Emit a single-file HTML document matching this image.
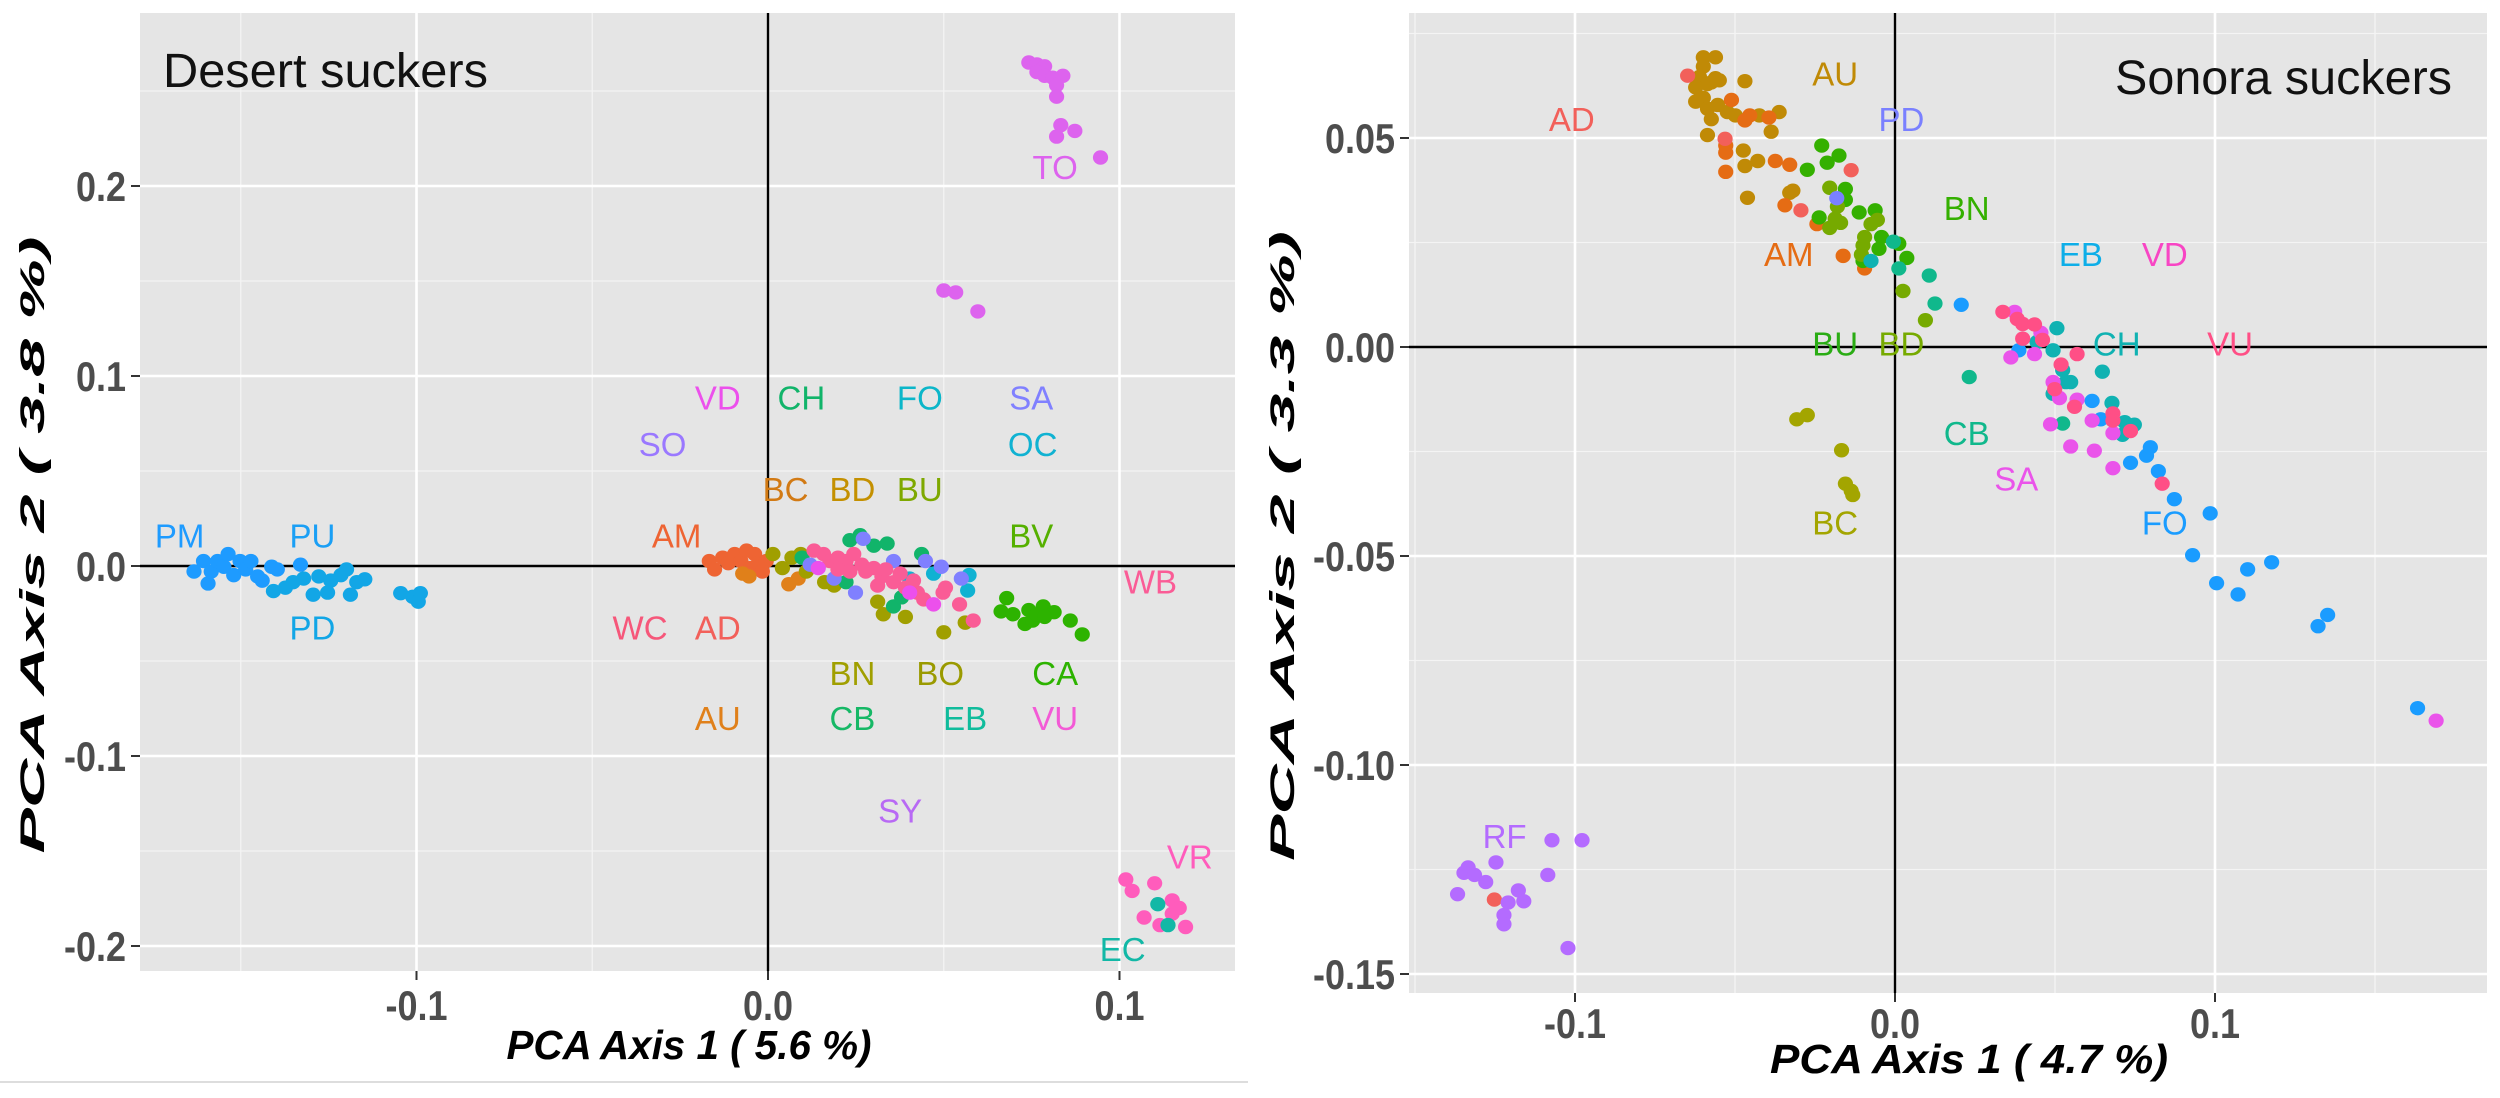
<!DOCTYPE html>
<html><head><meta charset="utf-8"><style>
html,body{margin:0;padding:0;background:#fff;}
svg{display:block;font-family:"Liberation Sans",sans-serif;}
</style></head><body>
<svg id="chart" width="2500" height="1098" viewBox="0 0 2500 1098" xmlns="http://www.w3.org/2000/svg">
<line x1="0" y1="1082" x2="1248" y2="1082" stroke="#dddddd" stroke-width="2"/>
<g id="left"></g>
<g id="right"></g>
</svg>
<script>
// ---------- Desert suckers data ----------
const desertPM = [[-0.1633,-0.0029],[-0.1606,0.0026],[-0.1593,-0.0092],[-0.1584,-0.0029],[-0.1566,0.0026],[-0.1548,-0.0004],[-0.1536,0.0063],[-0.1520,-0.0048],[-0.1502,0.0026],[-0.1486,-0.0018],[-0.1471,0.0026],[-0.1452,-0.0055],[-0.1439,-0.0077],[-0.1412,-0.0004],[-0.1396,-0.0018],[-0.1330,0.0007]];
const desertPD = [[-0.1407,-0.0132],[-0.1373,-0.0114],[-0.1351,-0.0085],[-0.1321,-0.0066],[-0.1294,-0.0151],[-0.1278,-0.0055],[-0.1253,-0.0140],[-0.1244,-0.0077],[-0.1215,-0.0048],[-0.1199,-0.0018],[-0.1188,-0.0151],[-0.1170,-0.0085],[-0.1147,-0.0070],[-0.1045,-0.0143],[-0.1011,-0.0162],[-0.0989,-0.0143],[-0.0995,-0.0188]];
const desertAM = [[-0.0167,0.0026],[-0.0152,-0.0018],[-0.0129,0.0044],[-0.0113,0.0015],[-0.0095,0.0063],[-0.0077,0.0026],[-0.0061,0.0081],[-0.0050,-0.0011],[-0.0038,0.0063],[-0.0027,0.0015],[-0.0016,-0.0029],[-0.0005,0.0026]];
const desertAU = [[-0.0072,-0.0040],[-0.0054,-0.0055],[0.0059,-0.0096],[0.0086,-0.0066]];
const desertBN = [[0.0014,0.0063],[0.0041,-0.0011],[0.0068,0.0044],[0.0093,0.0063],[0.0109,-0.0029],[0.0161,-0.0085],[0.0188,-0.0103],[0.0312,-0.0188],[0.0328,-0.0254],[0.0391,-0.0268],[0.0500,-0.0349],[0.0561,-0.0298]];
const desertCH = [[0.0097,0.0044],[0.0233,0.0136],[0.0262,0.0162],[0.0301,0.0107],[0.0339,0.0118],[0.0222,-0.0085],[0.0357,-0.0213],[0.0437,0.0063],[0.0380,-0.0165]];
const desertOC = [[0.0568,-0.0129],[0.0572,-0.0048],[0.0471,-0.0040],[0.0403,-0.0066]];
const desertSA = [[0.0120,0.0007],[0.0188,-0.0066],[0.0249,-0.0140],[0.0271,0.0143],[0.0357,0.0026],[0.0493,-0.0004],[0.0550,-0.0066],[0.0448,0.0026]];
const desertWB = [[0.0131,0.0081],[0.0158,0.0063],[0.0176,0.0026],[0.0199,0.0044],[0.0222,0.0026],[0.0244,0.0063],[0.0267,0.0007],[0.0278,-0.0029],[0.0301,-0.0011],[0.0324,-0.0055],[0.0335,-0.0018],[0.0357,-0.0085],[0.0376,-0.0040],[0.0391,-0.0114],[0.0414,-0.0077],[0.0425,-0.0140],[0.0443,-0.0176],[0.0498,-0.0140],[0.0505,-0.0114],[0.0545,-0.0202],[0.0584,-0.0287],[0.0312,-0.0103],[0.0233,-0.0029],[0.0199,-0.0018]];
const desertVD = [[0.0143,-0.0011],[0.0403,-0.0140],[0.0471,-0.0202]];
const desertCA = [[0.0679,-0.0169],[0.0663,-0.0239],[0.0697,-0.0254],[0.0731,-0.0305],[0.0742,-0.0232],[0.0753,-0.0287],[0.0783,-0.0213],[0.0765,-0.0257],[0.0814,-0.0243],[0.0860,-0.0287],[0.0894,-0.0360],[0.0787,-0.0268]];
const desertTO = [[0.0742,0.265],[0.0765,0.264],[0.0787,0.263],[0.0765,0.260],[0.0787,0.258],[0.081,0.257],[0.0839,0.258],[0.0821,0.253],[0.0821,0.247],[0.0833,0.232],[0.0821,0.226],[0.0873,0.229],[0.0946,0.215],[0.050,0.145],[0.0534,0.144],[0.0597,0.134]];
const desertVR = [[0.1018,-0.165],[0.1036,-0.171],[0.110,-0.167],[0.115,-0.176],[0.107,-0.185],[0.1115,-0.189],[0.115,-0.183],[0.1188,-0.190],[0.117,-0.180]];
const desertEC = [[0.1109,-0.178],[0.1138,-0.189]];
const desertLabels = ["PM","PU","PD","VD","CH","FO","SA","SO","OC","BC","BD","BU","AM","BV","WB","WC","AD","BN","BO","CA","AU","CB","EB","VU","SY","TO","VR","EC"];
const desertLabelX = [-0.1674,-0.1296,-0.1296,-0.0143,0.0095,0.0432,0.0749,-0.030,0.0753,0.005,0.024,0.0432,-0.026,0.0749,0.1088,-0.0364,-0.0143,0.024,0.049,0.0817,-0.0143,0.024,0.0561,0.0817,0.0376,0.0817,0.120,0.1009];
const desertLabelY = [0.016,0.016,-0.0324,0.0886,0.0886,0.0886,0.0886,0.0643,0.0643,0.0404,0.0404,0.0404,0.016,0.016,-0.0081,-0.0324,-0.0324,-0.0563,-0.0563,-0.0563,-0.080,-0.080,-0.080,-0.080,-0.1287,0.21,-0.153,-0.2015];

// ---------- Sonora suckers data ----------
const sonoraAU = [[-0.0599,0.0693],[-0.0561,0.0693],[-0.0599,0.0671],[-0.0611,0.0646],[-0.0586,0.0629],[-0.0623,0.0621],[-0.0574,0.0633],[-0.0549,0.0638],[-0.0599,0.0596],[-0.0623,0.0587],[-0.0586,0.0570],[-0.0554,0.0579],[-0.0524,0.0562],[-0.0574,0.0545],[-0.0586,0.0507],[-0.0499,0.0554],[-0.0469,0.0636],[-0.0424,0.0554],[-0.0387,0.0515],[-0.0362,0.0562],[-0.0474,0.0470],[-0.0429,0.0445],[-0.0469,0.0433],[-0.0461,0.0357],[-0.0329,0.0369],[-0.0319,0.0374],[-0.0561,0.0643]];
const sonoraAD = [[-0.0648,0.0649],[-0.0531,0.0498],[-0.0294,0.0327],[-0.0137,0.0423],[-0.1252,-0.1322]];
const sonoraAM = [[-0.0511,0.0591],[-0.0454,0.0554],[-0.0469,0.0542],[-0.0529,0.0482],[-0.0529,0.0465],[-0.0529,0.0419],[-0.0374,0.0445],[-0.0329,0.0436],[-0.0344,0.0339],[-0.0244,0.0294],[-0.0162,0.0218],[-0.0095,0.0188],[-0.0394,0.0549]];
const sonoraBN = [[-0.0229,0.0482],[-0.0175,0.0458],[-0.0212,0.0441],[-0.0274,0.0424],[-0.0112,0.0322],[-0.0062,0.0327],[-0.0237,0.0310],[-0.0155,0.0378],[-0.0155,0.0352],[-0.0042,0.0263],[-0.0050,0.0235],[0.0037,0.0213],[-0.0100,0.0206],[0.0012,0.0247]];
const sonoraBD = [[-0.0204,0.0381],[-0.0180,0.0336],[-0.0187,0.0307],[-0.0204,0.0285],[-0.0170,0.0297],[-0.0095,0.0263],[-0.0100,0.0243],[-0.0105,0.0221],[-0.0075,0.0294],[-0.0055,0.0304],[0.0025,0.0134],[0.0095,0.0064]];
const sonoraPD = [[-0.0182,0.0356]];
const sonoraCB = [[-0.0005,0.0252],[0.0012,0.0188],[0.0107,0.0171],[0.0125,0.0104],[0.0232,-0.0072],[0.0524,-0.0183]];
const sonoraBC = [[-0.0307,-0.0173],[-0.0274,-0.0163],[-0.0167,-0.0247],[-0.0155,-0.0327],[-0.0137,-0.0344],[-0.0132,-0.0354]];
const sonoraFO = [[0.0207,0.0101],[0.0387,-0.0008],[0.0616,-0.0129],[0.0643,-0.0173],[0.0736,-0.0277],[0.0786,-0.0260],[0.0798,-0.0240],[0.0823,-0.0297],[0.0873,-0.0364],[0.0985,-0.0398],[0.0930,-0.0498],[0.1005,-0.0565],[0.1072,-0.0592],[0.1102,-0.0532],[0.1177,-0.0515],[0.1322,-0.0668],[0.1352,-0.0641],[0.1633,-0.0864]];
const sonoraCH = [[-0.0075,0.0206],[0.0506,0.0045],[0.0494,-0.0008],[0.0524,-0.0055],[0.0534,-0.0084],[0.0494,-0.0112],[0.0648,-0.0059],[0.0678,-0.0134],[0.0718,-0.0180],[0.0748,-0.0186],[0.0711,-0.0210],[0.0444,0.0012],[0.0549,-0.0084]];
const sonoraSA = [[0.0374,0.0084],[0.0456,0.0034],[0.0362,-0.0025],[0.0436,-0.0017],[0.0494,-0.0084],[0.0514,-0.0122],[0.0569,-0.0126],[0.0486,-0.0185],[0.0549,-0.0238],[0.0623,-0.0248],[0.0616,-0.0176],[0.0681,-0.0290],[0.0681,-0.0206],[0.1691,-0.0894]];
const sonoraVU = [[0.0337,0.0084],[0.0382,0.0067],[0.0399,0.0055],[0.0436,0.0054],[0.0461,0.0017],[0.0399,0.0020],[0.0519,-0.0042],[0.0569,-0.0017],[0.0499,-0.0101],[0.0561,-0.0143],[0.0681,-0.0159],[0.0736,-0.0201],[0.0835,-0.0327],[0.0681,-0.0176]];
const sonoraRF = [[-0.1367,-0.1309],[-0.1334,-0.1245],[-0.1347,-0.1258],[-0.1314,-0.1263],[-0.1279,-0.1280],[-0.1247,-0.1233],[-0.1209,-0.1329],[-0.1222,-0.1359],[-0.1222,-0.1381],[-0.1177,-0.1300],[-0.1160,-0.1326],[-0.1085,-0.1263],[-0.1072,-0.1180],[-0.0978,-0.1180],[-0.1022,-0.1438]];
const sonoraLabels = ["AD","AU","PD","BN","AM","EB","VD","BU","BD","CH","VU","CB","SA","BC","FO","RF"];
const sonoraLabelX = [-0.101,-0.0187,0.002,0.0224,-0.0332,0.0581,0.0843,-0.0187,0.002,0.0693,0.1047,0.0224,0.0379,-0.0187,0.0843,-0.122];
const sonoraLabelY = [0.0545,0.0654,0.0545,0.0332,0.0223,0.0223,0.0223,0.0008,0.0008,0.0008,0.0008,-0.0206,-0.0314,-0.042,-0.042,-0.117];

// ---------- tick values ----------
const desertXTicks = [-0.1,0.0,0.1];
const desertXTickLabels = ["-0.1","0.0","0.1"];
const desertYTicks = [0.2,0.1,0.0,-0.1,-0.2];
const desertYTickLabels = ["0.2","0.1","0.0","-0.1","-0.2"];
const sonoraXTicks = [-0.1,0.0,0.1];
const sonoraXTickLabels = ["-0.1","0.0","0.1"];
const sonoraYTicks = [0.05,0.0,-0.05,-0.10,-0.15];
const sonoraYTickLabels = ["0.05","0.00","-0.05","-0.10","-0.15"];

const colorMap = {PM:"#1e9bff",PU:"#1a9ff5",PD:"#12a6e6",AM:"#ee6433",AU:"#e0801a",AD:"#f2605a",WC:"#f6577a",BN:"#a09f00",BO:"#9a9a00",BC:"#d27a14",BD:"#c49000",BU:"#7ea800",BV:"#55b000",CH:"#11b46a",CB:"#16b866",OC:"#10b2d2",FO:"#0bb6c9",EB:"#10bc9c",SA:"#8080ff",SO:"#9a78ff",WB:"#fa5c96",VU:"#f35ad6",VD:"#ec50ec",CA:"#2db300",TO:"#dd63ee",SY:"#b869f4",VR:"#ff5cbc",EC:"#12b8a6",RF:"#b46bff"};
const sonoraColor = {AD:"#f2605a",AU:"#c08a06",AM:"#e56c14",BN:"#34b000",BU:"#2aac14",BD:"#76aa00",PD:"#7a80ff",CB:"#10b88c",BC:"#a3a500",FO:"#1a9cff",CH:"#10b2b2",SA:"#ea54ea",VU:"#ff4f86",VD:"#f845c4",EB:"#0eaee8",RF:"#b46bff"};

const NS="http://www.w3.org/2000/svg";
function mk(parent, tag, attrs){const e=document.createElementNS(NS,tag);for(const k in attrs)e.setAttribute(k,attrs[k]);parent.appendChild(e);return e;}

function drawPanel(g, cfg){
  const sx=v=>cfg.x0+v*cfg.kx, sy=v=>cfg.y0-v*cfg.ky;
  const bg=mk(g,"rect",{x:cfg.L,y:cfg.T,width:cfg.R-cfg.L,height:cfg.B-cfg.T,fill:"#e5e5e5"});
  
  
  cfg.xMinor.forEach(v=>{const l=mk(g,"line",{x1:sx(v),x2:sx(v),y1:cfg.T,y2:cfg.B,stroke:"#f4f4f4","stroke-width":1.3});
    
    });
  cfg.yMinor.forEach(v=>{const l=mk(g,"line",{x1:cfg.L,x2:cfg.R,y1:sy(v),y2:sy(v),stroke:"#f4f4f4","stroke-width":1.3});
    
    });
  cfg.xTicks.forEach((v,i)=>{const l=mk(g,"line",{x1:sx(v),x2:sx(v),y1:cfg.T,y2:cfg.B,stroke:"#ffffff","stroke-width":2.6});
    
    
    const t=mk(g,"line",{x1:sx(v),x2:sx(v),y1:cfg.B,y2:cfg.B+9,stroke:"#333","stroke-width":2});
    
    
    const tx=mk(g,"text",{x:0,y:0,"text-anchor":"middle","font-size":36,"font-weight":"bold",fill:"#4d4d4d",transform:`translate(${sx(v)},${cfg.xLabY}) scale(1,1.15)`});
    tx.textContent=cfg.xTickLabels[i];
    
    });
  cfg.yTicks.forEach((v,i)=>{const l=mk(g,"line",{x1:cfg.L,x2:cfg.R,y1:sy(v),y2:sy(v),stroke:"#ffffff","stroke-width":2.6});
    
    
    const t=mk(g,"line",{x1:cfg.L-9,x2:cfg.L,y1:sy(v),y2:sy(v),stroke:"#333","stroke-width":2});
    
    
    const tx=mk(g,"text",{x:0,y:0,"text-anchor":"end","font-size":36,"font-weight":"bold",fill:"#4d4d4d",transform:`translate(${cfg.L-14},${sy(v)+15}) scale(1,1.15)`});
    tx.textContent=cfg.yTickLabels[i];
    
    });
  const h=mk(g,"line",{x1:cfg.L,x2:cfg.R,y1:sy(0),y2:sy(0),stroke:"#000","stroke-width":2.4});
  
  
  const vl=mk(g,"line",{x1:sx(0),x2:sx(0),y1:cfg.T,y2:cfg.B,stroke:"#000","stroke-width":2.4});
  
  
  cfg.groups.forEach(gr=>{gr.pts.forEach(p=>{
    const c=mk(g,"ellipse",{cx:sx(p[0]),cy:sy(p[1]),rx:7.6,ry:7.2,fill:gr.color});
    
    });});
  cfg.labels.forEach((s,i)=>{
    const t=mk(g,"text",{x:sx(cfg.labX[i]),y:sy(cfg.labY[i])+12,"text-anchor":"middle","font-size":33,fill:cfg.labColor[s]});
    t.textContent=s;
    
    });
  const ti=mk(g,"text",{x:cfg.titleX,y:cfg.titleY,"font-size":48,fill:"#111",textLength:cfg.titleW,lengthAdjust:"spacingAndGlyphs"});
  ti.textContent=cfg.title;
  
  
  const xt=mk(g,"text",{x:cfg.xTitleX,y:cfg.xTitleY,"text-anchor":"middle","font-size":41,"font-weight":"bold","font-style":"italic",fill:"#000",textLength:cfg.xTitleW,lengthAdjust:"spacingAndGlyphs"});
  xt.textContent=cfg.xTitle;
  
  
  const yt=mk(g,"text",{x:0,y:0,"text-anchor":"middle","font-size":34,"font-weight":"bold","font-style":"italic",fill:"#000",textLength:cfg.yTitleW,lengthAdjust:"spacingAndGlyphs",transform:`translate(${cfg.yTitleX},${cfg.yTitleY}) rotate(-90)`});
  yt.textContent=cfg.yTitle;
  
  
}

drawPanel(document.getElementById('left'),{
  L:140,R:1235,T:13,B:971,x0:768,kx:3515,y0:566,ky:1900,
  xTicks:desertXTicks,xTickLabels:desertXTickLabels,yTicks:desertYTicks,yTickLabels:desertYTickLabels,
  xMinor:[-0.15,-0.05,0.05],yMinor:[0.25,0.15,0.05,-0.05,-0.15],xLabY:1020,
  groups:[{name:"PM",pts:desertPM,color:colorMap.PM},{name:"PD",pts:desertPD,color:colorMap.PD},{name:"AM",pts:desertAM,color:colorMap.AM},{name:"AU",pts:desertAU,color:colorMap.AU},{name:"BN",pts:desertBN,color:colorMap.BN},{name:"CH",pts:desertCH,color:colorMap.CH},{name:"OC",pts:desertOC,color:colorMap.OC},{name:"SA",pts:desertSA,color:colorMap.SA},{name:"WB",pts:desertWB,color:colorMap.WB},{name:"VD",pts:desertVD,color:colorMap.VD},{name:"CA",pts:desertCA,color:colorMap.CA},{name:"TO",pts:desertTO,color:colorMap.TO},{name:"VR",pts:desertVR,color:colorMap.VR},{name:"EC",pts:desertEC,color:colorMap.EC}],
  labels:desertLabels,labX:desertLabelX,labY:desertLabelY,labColor:colorMap,
  title:"Desert suckers",titleX:163,titleY:87,titleW:325,
  xTitle:"PCA Axis 1 ( 5.6 %)",xTitleX:689,xTitleY:1059,xTitleW:365,
  yTitle:"PCA Axis 2 ( 3.8 %)",yTitleX:44,yTitleY:545,yTitleW:617
});
drawPanel(document.getElementById('right'),{
  L:1409,R:2487,T:13,B:993,x0:1895,kx:3200,y0:347,ky:4180,
  xTicks:sonoraXTicks,xTickLabels:sonoraXTickLabels,yTicks:sonoraYTicks,yTickLabels:sonoraYTickLabels,
  xMinor:[-0.15,-0.05,0.05,0.15],yMinor:[0.075,0.025,-0.025,-0.075,-0.125],xLabY:1038,
  groups:[{name:"AU",pts:sonoraAU,color:sonoraColor.AU},{name:"AM",pts:sonoraAM,color:sonoraColor.AM},{name:"AD",pts:sonoraAD,color:sonoraColor.AD},{name:"BN",pts:sonoraBN,color:sonoraColor.BN},{name:"BD",pts:sonoraBD,color:sonoraColor.BD},{name:"PD",pts:sonoraPD,color:sonoraColor.PD},{name:"CB",pts:sonoraCB,color:sonoraColor.CB},{name:"BC",pts:sonoraBC,color:sonoraColor.BC},{name:"FO",pts:sonoraFO,color:sonoraColor.FO},{name:"CH",pts:sonoraCH,color:sonoraColor.CH},{name:"SA",pts:sonoraSA,color:sonoraColor.SA},{name:"VU",pts:sonoraVU,color:sonoraColor.VU},{name:"RF",pts:sonoraRF,color:sonoraColor.RF}],
  labels:sonoraLabels,labX:sonoraLabelX,labY:sonoraLabelY,labColor:sonoraColor,
  title:"Sonora suckers",titleX:2115,titleY:94,titleW:337,
  xTitle:"PCA Axis 1 ( 4.7 %)",xTitleX:1969,xTitleY:1073,xTitleW:398,
  yTitle:"PCA Axis 2 ( 3.3 %)",yTitleX:1294,yTitleY:546,yTitleW:630
});
</script>
</body></html>
